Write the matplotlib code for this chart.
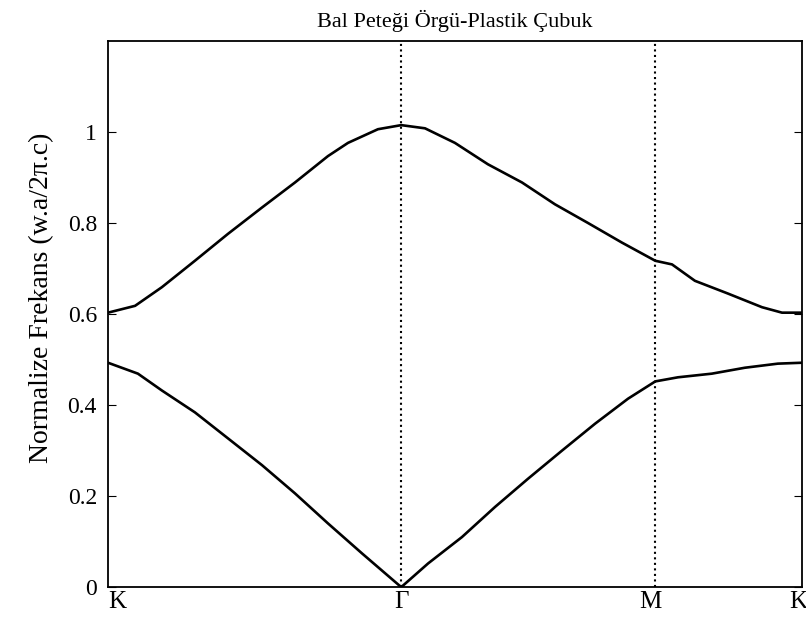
import matplotlib.pyplot as plt
import numpy as np
from matplotlib.ticker import FormatStrFormatter
from matplotlib.transforms import ScaledTranslation

# high-symmetry points along the path K - Gamma - M - K (hexagonal lattice)
sym_pos = [0.0, 4 / 3, 4 / 3 + 2 / np.sqrt(3), 4 / 3 + 2 / np.sqrt(3) + 2 / 3]
sym_labels = ['K', 'Γ', 'M', 'K']

# band 1 (lower)
k_band1 = [0.0, 0.136, 0.245, 0.395, 0.545, 0.700, 0.850, 1.000, 1.155, 1.333,
           1.455, 1.609, 1.759, 1.909, 2.064, 2.214, 2.364, 2.488,
           2.591, 2.745, 2.895, 3.045, 3.155]
f_band1 = [0.493, 0.469, 0.432, 0.384, 0.327, 0.268, 0.206, 0.140, 0.074, 0.0,
           0.052, 0.110, 0.176, 0.238, 0.300, 0.359, 0.414, 0.452,
           0.461, 0.469, 0.482, 0.491, 0.493]

# band 2 (upper)
k_band2 = [0.0, 0.123, 0.245, 0.395, 0.545, 0.700, 0.850, 1.000, 1.091, 1.227, 1.333,
           1.441, 1.577, 1.727, 1.882, 2.032, 2.182, 2.336, 2.488,
           2.564, 2.668, 2.818, 2.973, 3.064, 3.155]
f_band2 = [0.603, 0.618, 0.659, 0.717, 0.776, 0.834, 0.889, 0.947, 0.976, 1.006, 1.015,
           1.008, 0.976, 0.929, 0.889, 0.841, 0.800, 0.757, 0.717,
           0.709, 0.673, 0.645, 0.615, 0.603, 0.603]

yticks = [0, 0.2, 0.4, 0.6, 0.8, 1]

plt.rcParams['font.family'] = ['Liberation Serif', 'DejaVu Serif']

fig = plt.figure(figsize=(8.06, 6.2), dpi=100)
ax = fig.add_axes([0.134, 0.053, 0.861, 0.881])

ax.plot(k_band1, f_band1, color='black', lw=1.9)
ax.plot(k_band2, f_band2, color='black', lw=1.9)
for p in sym_pos[1:3]:
    ax.axvline(p, color='black', ls=':', lw=1.5)

ax.set_xlim(sym_pos[0], sym_pos[-1])
ax.set_ylim(0, 1.2)
ax.set_xticks(sym_pos)
ax.set_xticklabels([])
# symmetry point labels, first one left-aligned, last one pulled in from the edge
shifts = [0.0, 0.0, -0.05, -0.13]
aligns = ['left', 'center', 'center', 'left']
for p, lab, dx, ha in zip(sym_pos, sym_labels, shifts, aligns):
    tr = ax.get_xaxis_transform() + ScaledTranslation(dx, -0.04, fig.dpi_scale_trans)
    ax.text(p, 0, lab, transform=tr, ha=ha, va='top', fontsize=18)

ax.set_yticks(yticks)
ax.yaxis.set_major_formatter(FormatStrFormatter('%g'))
ax.tick_params(axis='y', direction='in', right=True, length=6, labelsize=17, pad=8)
ax.tick_params(axis='x', length=0)
for s in ax.spines.values():
    s.set_linewidth(1.3)

ax.set_title('Bal Peteği Örgü-Plastik Çubuk', fontsize=16, pad=10)
ax.set_ylabel('Normalize Frekans (w.a/2π.c)', fontsize=20)
ax.yaxis.set_label_coords(-0.077, 0.53)

fig.savefig('out.png', dpi=100)
